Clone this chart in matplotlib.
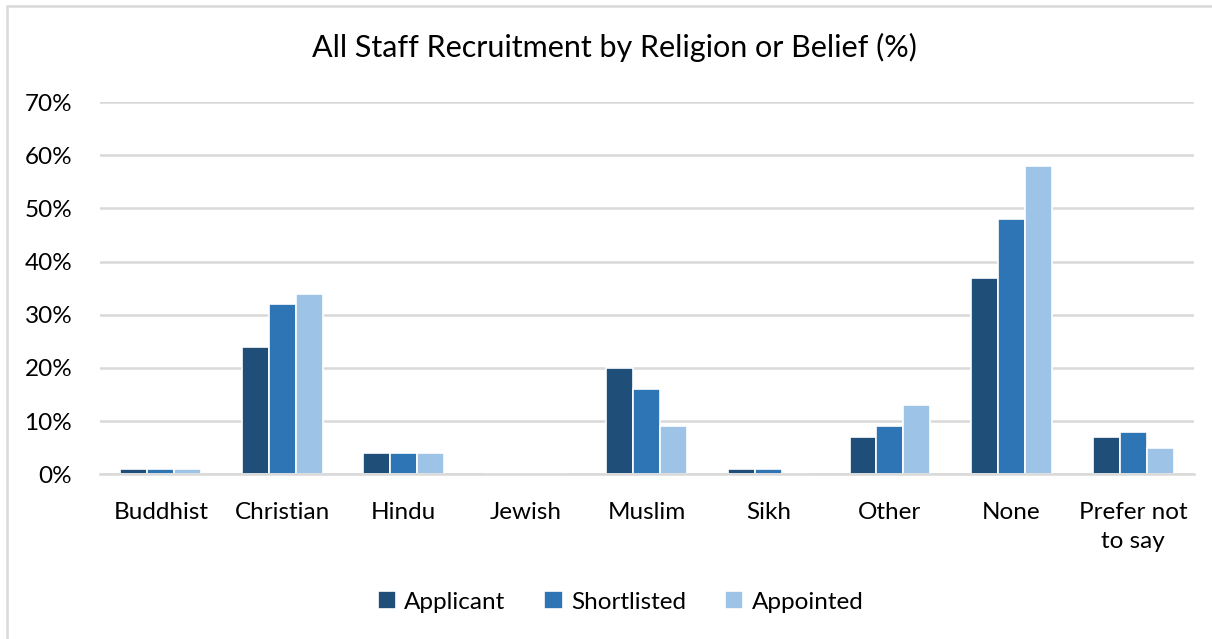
import matplotlib.pyplot as plt
import matplotlib.patches as mpatches
import numpy as np

categories = ["Buddhist", "Christian", "Hindu", "Jewish", "Muslim", "Sikh",
              "Other", "None", "Prefer not\nto say"]
applicant = [1, 24, 4, 0, 20, 1, 7, 37, 7]
shortlisted = [1, 32, 4, 0, 16, 1, 9, 48, 8]
appointed = [1, 34, 4, 0, 9, 0, 13, 58, 5]
yticks = [0, 10, 20, 30, 40, 50, 60, 70]

plt.rcParams["font.family"] = ["Lato", "DejaVu Sans"]

fig = plt.figure(figsize=(12.12, 6.39), dpi=100)
ax = fig.add_axes([0.0825, 0.258, 0.9025, 0.582])

x = np.arange(len(categories))
w = 0.222
series = [("Applicant", applicant, "#1F4E79"),
          ("Shortlisted", shortlisted, "#2E75B6"),
          ("Appointed", appointed, "#9DC3E6")]
for i, (name, vals, col) in enumerate(series):
    ax.bar(x + (i - 1) * w, vals, width=w, color=col, edgecolor="white",
           linewidth=1.2, label=name, zorder=2)

ax.set_xlim(-0.5, len(categories) - 0.5)
ax.set_ylim(0, 70)
ax.set_yticks(yticks)
ax.set_yticklabels([f"{v}%" for v in yticks])
ax.set_xticks(x)
ax.set_xticklabels(categories, linespacing=1.45)
ax.tick_params(axis="both", length=0, labelsize=17.5, colors="#000000")
ax.tick_params(axis="x", pad=20)
ax.tick_params(axis="y", pad=20)
ax.grid(axis="y", color="#D9D9D9", linewidth=1.8, zorder=0)
for s in ["top", "right", "left"]:
    ax.spines[s].set_visible(False)
ax.spines["bottom"].set_color("#D9D9D9")
ax.spines["bottom"].set_linewidth(1.8)

fig.text(0.507, 0.925, "All Staff Recruitment by Religion or Belief (%)",
         ha="center", va="center", fontsize=22)

fig.legend(loc="center", bbox_to_anchor=(0.512, 0.058), ncol=3, frameon=False,
           fontsize=17.5, handlelength=0.75, handleheight=0.75, handletextpad=0.35,
           columnspacing=1.6)

# chart frame (cropped on right and bottom)
fig.patches.append(mpatches.Rectangle((7 / 1212, -0.1), 1.2, (633 / 639) + 0.1,
                                      transform=fig.transFigure, fill=False,
                                      edgecolor="#D9D9D9", linewidth=1.8))

fig.savefig("out.png", dpi=100)
